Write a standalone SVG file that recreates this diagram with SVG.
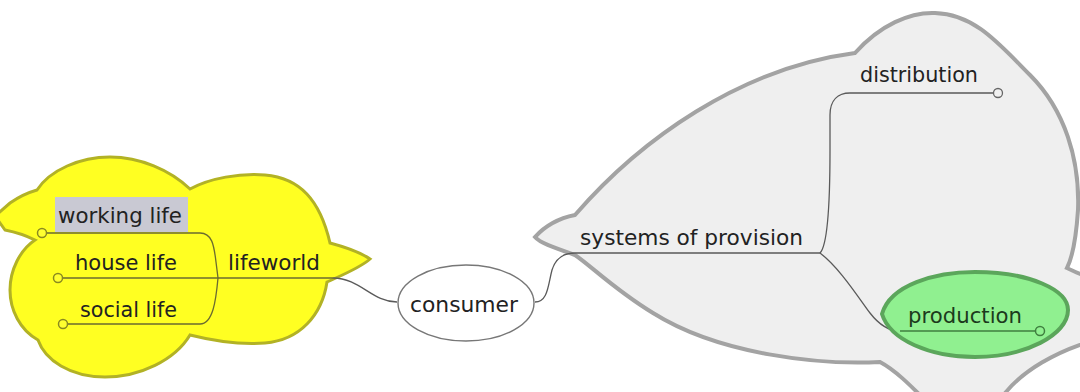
<svg xmlns="http://www.w3.org/2000/svg" width="1080" height="392" viewBox="0 0 1080 392">
<style>
.t{font-family:"DejaVu Sans","Liberation Sans",sans-serif;font-size:21px;fill:#222;}
.ln{fill:none;stroke:#5a5a5a;stroke-width:1.3;}
.yl{fill:none;stroke:#6b6b30;stroke-width:1.3;}
.dotY{fill:#ffff30;stroke:#8a8a20;stroke-width:1.5;}
.dotG{fill:#f0f0f0;stroke:#666;stroke-width:1.3;}
</style>
<rect width="1080" height="392" fill="#ffffff"/>
<g id="systems-blob">
<path d="M535,237 C545,226 560,218 575,215 C640,140 740,68 855,53 C880,25 910,12 935,13 C975,14 1000,45 1030,75 C1065,110 1080,160 1078,210 C1076,240 1072,258 1067,268 C1075,272 1085,276 1095,280 L1095,340 C1060,350 1020,370 1000,400 L925,400 C910,385 895,370 880,362 C820,365 720,355 653,313 C615,290 590,265 575,255 C555,248 540,243 535,237 Z" fill="#efefef" stroke="#a3a3a3" stroke-width="4"/>
</g>
<g id="lifeworld-blob">
<path d="M10,203 C20,196 30,192 37,190 C50,170 80,157 110,157 C140,157 170,170 190,189 C210,178 240,173 265,175 C300,178 320,200 330,243 C345,247 360,252 370,259 C360,268 340,276 327,282 C322,315 300,340 265,343 C240,345 210,340 190,335 C175,360 140,377 105,377 C70,377 45,360 38,340 C20,330 10,310 10,290 C10,270 20,250 35,240 C25,235 15,232 5,230 L-5,216 Z" fill="#ffff22" stroke="#b2b225" stroke-width="3"/>
</g>
<g id="connectors">
<path class="yl" d="M42,233 L200,233 C212,233 214,245 216,262 L218,278"/>
<path class="yl" d="M58,278 L333,278"/>
<path class="yl" d="M63,324 L200,324 C213,324 216,300 218,278"/>
<path class="ln" d="M333,278 C360,278 372,302 397,302"/>
<path class="ln" d="M535,302 C548,302 548,285 552,270 C556,257 565,253 575,253 L820,253"/>
<path class="ln" d="M820,253 C828,245 830,200 830,150 L830,115 C830,100 838,93 850,93 L994,93"/>
<path class="ln" d="M820,253 C840,268 860,300 870,313 C880,326 890,331 900,331"/>
</g>
<g id="working-life">
<rect x="55" y="197" width="133" height="35" fill="#c9c9d3"/>
<text class="t" x="58" y="223" textLength="124" lengthAdjust="spacingAndGlyphs">working life</text>
<circle class="dotY" cx="42" cy="233" r="4.5"/>
</g>
<g id="house-life">
<text class="t" x="75" y="270" textLength="102" lengthAdjust="spacingAndGlyphs">house life</text>
<circle class="dotY" cx="58" cy="278" r="4.5"/>
</g>
<g id="social-life">
<text class="t" x="80" y="317" textLength="97" lengthAdjust="spacingAndGlyphs">social life</text>
<circle class="dotY" cx="63" cy="324" r="4.5"/>
</g>
<g id="lifeworld">
<text class="t" x="228" y="270" textLength="92" lengthAdjust="spacingAndGlyphs">lifeworld</text>
</g>
<g id="consumer">
<ellipse cx="466" cy="303" rx="68" ry="38" fill="#ffffff" stroke="#777" stroke-width="1.4"/>
<text class="t" x="410" y="312" textLength="108" lengthAdjust="spacingAndGlyphs">consumer</text>
</g>
<g id="systems-of-provision">
<text class="t" x="580" y="245" textLength="223" lengthAdjust="spacingAndGlyphs">systems of provision</text>
</g>
<g id="distribution">
<text class="t" x="860" y="82" textLength="118" lengthAdjust="spacingAndGlyphs">distribution</text>
<circle class="dotG" cx="998" cy="93" r="4.5"/>
</g>
<g id="production">
<path d="M882,314 C890,285 935,272 975,272 C1030,272 1068,290 1068,310 C1068,335 1025,357 975,357 C930,357 890,340 882,314 Z" fill="#90f090" stroke="#5ba65b" stroke-width="4"/>
<line x1="900" y1="331" x2="1036" y2="331" stroke="#3f7f3f" stroke-width="1.3"/>
<text class="t" x="908" y="323" textLength="114" lengthAdjust="spacingAndGlyphs" fill="#1c3a1c" style="fill:#1c3a1c">production</text>
<circle cx="1040" cy="331" r="4.5" fill="#90f090" stroke="#3f7f3f" stroke-width="1.5"/>
</g>
</svg>
